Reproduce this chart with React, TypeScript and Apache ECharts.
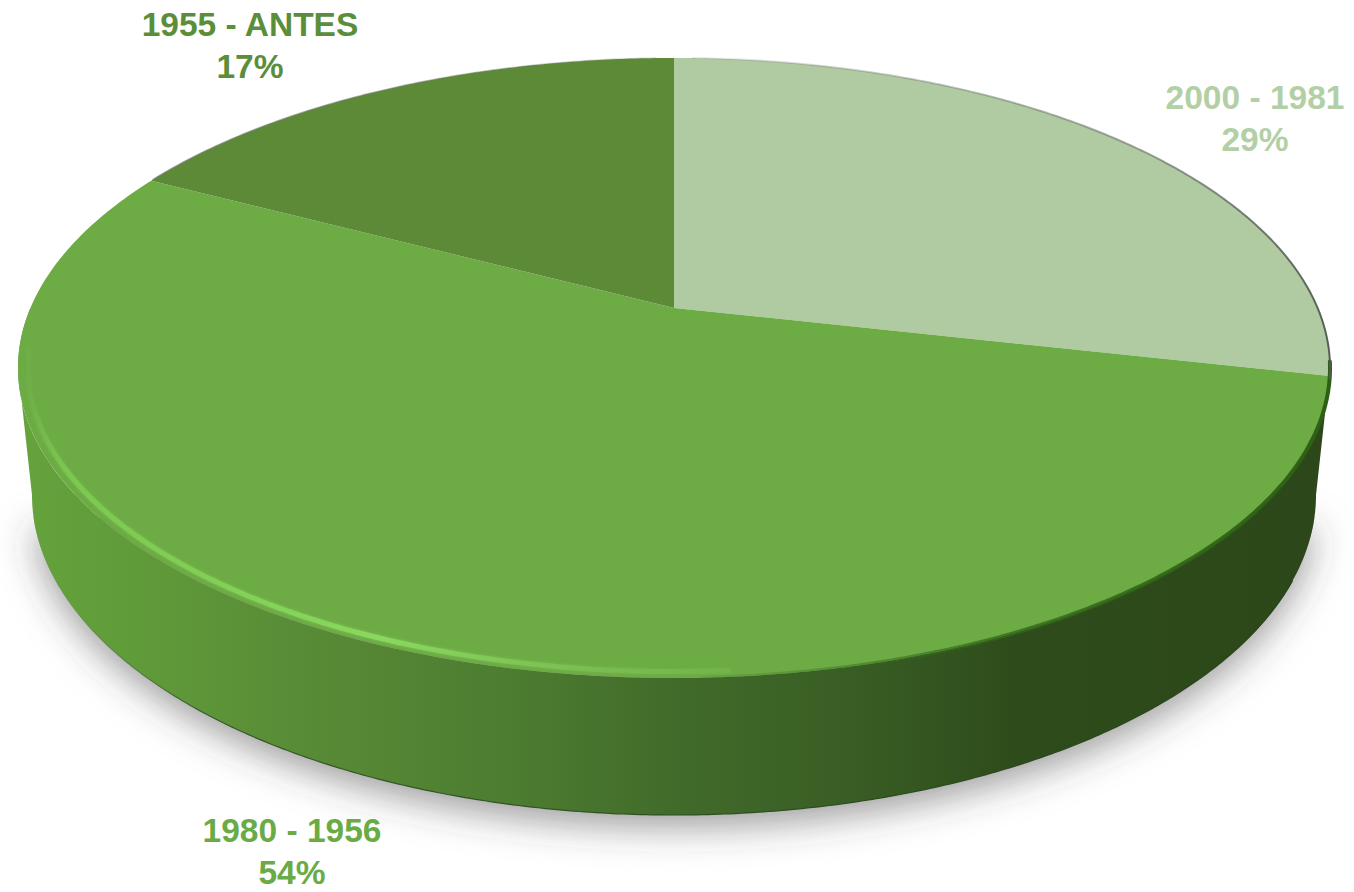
import React, { useEffect, useRef } from "react";
import * as echarts from "echarts";

const categories = ["2000 - 1981", "1980 - 1956", "1955 - ANTES"];
const shares = [28.5, 54.2, 17.3];
const sliceColors = ["#b0cba1", "#6dab45", "#5c8a37"];
const labelColors = ["#b3cfa5", "#6aab46", "#5b8e3a"];

const W = 1354;
const H = 892;
const FONT = "'Liberation Sans', Arial, sans-serif";
// perspective projection of the pie's unit circle onto the page
const project = (deg: number, r = 1): number[] => {
  const t = (deg * Math.PI) / 180;
  const u = r * Math.sin(t);
  const v = -r * Math.cos(t);
  const w = 1 - 0.1935 * v;
  return [674 + (643.6 * u) / w, (308 + 238.8 * v) / w];
};
const arc = (from: number, to: number, r = 1): number[][] => {
  const pts: number[][] = [];
  const n = Math.max(2, Math.ceil(Math.abs(to - from) * 2));
  for (let i = 0; i <= n; i++) pts.push(project(from + ((to - from) * i) / n, r));
  return pts;
};
const lowerEllipse = (): number[][] => {
  const pts: number[][] = [];
  for (let a = 180; a >= 0; a -= 0.5) {
    const t = (a * Math.PI) / 180;
    pts.push([674 + 642 * Math.cos(t), 495 + 320 * Math.sin(t)]);
  }
  return pts;
};
const labelAnchors = [
  [1255, 118],
  [292, 851],
  [250, 45],
];

const wallItem = () => {
  const bottom = lowerEllipse();
  const outline = [...arc(270, 180), ...arc(180, 90).slice(1)];
  const wall = [[18, 368], ...bottom, [1330, 368], ...outline.slice().reverse()];
  return {
    type: "group",
    children: [
      {
        type: "polygon",
        shape: { points: bottom.slice(8, bottom.length - 8) },
        style: {
          fill: "#9a9a9a",
          shadowBlur: 36,
          shadowColor: "rgba(60,60,60,0.5)",
          shadowOffsetY: 12,
        },
        silent: true,
      },
      {
        type: "polygon",
        shape: { points: wall },
        style: {
          fill: new echarts.graphic.LinearGradient(0, 0, 1, 0, [
            { offset: 0, color: "#65a33c" },
            { offset: 0.1, color: "#5f9a39" },
            { offset: 0.2, color: "#5a8d37" },
            { offset: 0.38, color: "#4c7c30" },
            { offset: 0.5, color: "#416b2a" },
            { offset: 0.62, color: "#3a5f25" },
            { offset: 0.76, color: "#2e4c1b" },
            { offset: 1, color: "#2c4719" },
          ]),
        },
        silent: true,
      },
      {
        type: "polyline",
        shape: { points: bottom.filter((_, k) => k > 30 && k < 330) },
        style: {
          fill: "none",
          stroke: new echarts.graphic.LinearGradient(
            60,
            0,
            1290,
            0,
            [
              { offset: 0, color: "rgba(54,89,42,0)" },
              { offset: 0.12, color: "rgba(54,89,42,1)" },
              { offset: 1, color: "rgba(40,65,25,1)" },
            ],
            true
          ),
          lineWidth: 1.2,
        },
        silent: true,
      },
    ],
  };
};

const sliceItem = (params: any, api: any) => {
  const i = params.dataIndex;
  const total = shares.reduce((a, b) => a + b, 0);
  const before = shares.slice(0, i).reduce((a, b) => a + b, 0);
  const start = (before / total) * 360;
  const end = start + (api.value(0) / total) * 360;
  const [lx, ly] = labelAnchors[i];
  return {
    type: "group",
    children: [
      {
        type: "polygon",
        shape: { points: [[674, 308], ...arc(start, end)] },
        style: { fill: sliceColors[i] },
        silent: true,
      },
      {
        type: "text",
        x: lx,
        y: ly,
        style: {
          text: `${categories[i]}\n${Math.round(api.value(0))}%`,
          align: "center",
          verticalAlign: "middle",
          fontFamily: FONT,
          fontWeight: "bold",
          fontSize: 33.5,
          lineHeight: 42,
          fill: labelColors[i],
        },
        silent: true,
      },
    ],
  };
};

const rimItem = () => {
  const stroked = (points: number[][], stroke: any, lineWidth: number, blur = 0) => ({
    type: "polyline",
    shape: { points },
    style: { fill: "none", stroke, lineWidth, lineCap: "round", shadowBlur: blur, shadowColor: blur ? "rgba(143,216,99,0.6)" : "transparent" },
    silent: true,
  });
  const grad = (x0: number, x1: number, stops: [number, string][]) =>
    new echarts.graphic.LinearGradient(x0, 0, x1, 0, stops.map(([offset, color]) => ({ offset, color })), true);
  return {
    type: "group",
    children: [
      stroked(
        arc(262, 176, 0.986),
        grad(24, 820, [
          [0, "rgba(125,200,80,0)"],
          [0.06, "rgba(125,205,80,0.75)"],
          [0.45, "rgba(138,216,95,1)"],
          [0.72, "rgba(125,195,85,0.5)"],
          [1, "rgba(125,195,85,0)"],
        ]),
        5,
        3
      ),
      stroked(
        arc(178, 100),
        grad(700, 1330, [
          [0, "rgba(50,100,28,0.1)"],
          [0.5, "rgba(50,105,25,0.8)"],
          [1, "rgba(45,95,20,1)"],
        ]),
        4
      ),
      stroked(
        arc(2, 103),
        grad(680, 1330, [
          [0, "rgba(110,120,110,0.15)"],
          [0.7, "rgba(100,110,100,0.6)"],
          [1, "rgba(80,90,80,0.95)"],
        ]),
        2
      ),
      stroked(
        arc(298, 358),
        grad(160, 670, [
          [0, "rgba(110,120,100,0.7)"],
          [1, "rgba(110,120,100,0.25)"],
        ]),
        1.5
      ),
    ],
  };
};

export default function App() {
  const ref = useRef<HTMLDivElement>(null);
  useEffect(() => {
    document.body.style.margin = "0";
    document.body.style.background = "#ffffff";
    const chart = echarts.init(ref.current!, null, { renderer: "svg" });
    chart.setOption({
      animation: false,
      backgroundColor: "#ffffff",
      series: [
        { type: "custom", coordinateSystem: "none", data: [shares[1]], renderItem: wallItem, z: 1, silent: true },
        { type: "custom", coordinateSystem: "none", data: shares, renderItem: sliceItem, z: 2, silent: true },
        { type: "custom", coordinateSystem: "none", data: [shares[1]], renderItem: rimItem, z: 3, silent: true },
      ],
    });
    return () => chart.dispose();
  }, []);
  return <div ref={ref} style={{ width: W, height: H }} />;
}
